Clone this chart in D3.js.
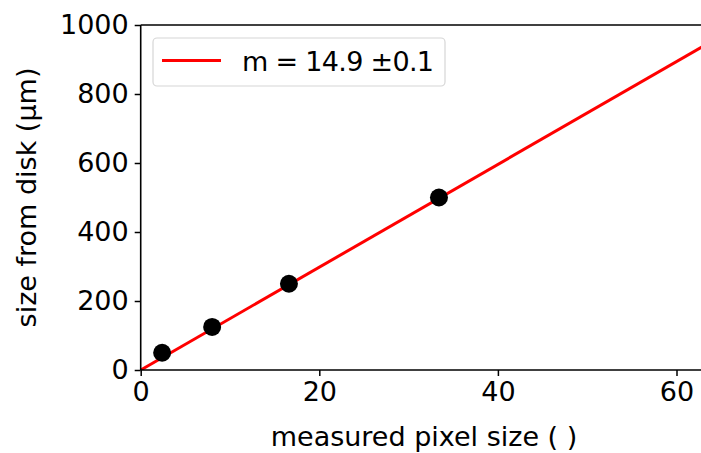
<!DOCTYPE html>
<html>
<head>
<meta charset="utf-8">
<script src="https://cdn.jsdelivr.net/npm/d3@7"></script>
<style>
  body { margin: 0; background: #fff; }
  svg { font-family: "DejaVu Sans", sans-serif; }
</style>
</head>
<body>
<svg width="701" height="453"></svg>
<script>
// measured data
var pixelSize = [2.4, 8.0, 16.6, 33.4];
var diskSize = [50, 125, 250, 500];
var slope = 14.9;
var xTicks = [0, 20, 40, 60];
var yTicks = [0, 200, 400, 600, 800, 1000];
var legendText = "m = 14.9 \u00b10.1";

var fontSize = 27;
var margin = { left: 140.7, top: 25, bottom: 83 };
var width = 701, height = 453;

var svg = d3.select("svg");

var x = d3.scaleLinear()
  .domain([0, 62.8])
  .range([margin.left, margin.left + 62.8 * 8.93]);

var y = d3.scaleLinear()
  .domain([0, 1000])
  .range([height - margin.bottom, margin.top]);

// clip for the plot area
svg.append("clipPath").attr("id", "plot")
  .append("rect")
  .attr("x", margin.left).attr("y", margin.top)
  .attr("width", width - margin.left).attr("height", y(0) - margin.top);

var plot = svg.append("g").attr("clip-path", "url(#plot)");

// points
svg.append("g").selectAll("circle")
  .data(pixelSize)
  .enter()
  .append("circle")
  .attr("cx", function(d) { return x(d); })
  .attr("cy", function(d, i) { return y(diskSize[i]); })
  .attr("r", 9)
  .attr("fill", "#000");

// fit line over the points
var fitX = [0, 64];
plot.append("line")
  .attr("x1", x(fitX[0])).attr("y1", y(slope * fitX[0]))
  .attr("x2", x(fitX[1])).attr("y2", y(slope * fitX[1]))
  .attr("stroke", "#ff0000")
  .attr("stroke-width", 3);

// axes
var xAxis = svg.append("g")
  .attr("transform", "translate(0," + y(0) + ")")
  .call(d3.axisBottom(x).tickValues(xTicks).tickSize(6).tickPadding(6).tickFormat(d3.format("d")));

var yAxis = svg.append("g")
  .attr("transform", "translate(" + margin.left + ",0)")
  .call(d3.axisLeft(y).tickValues(yTicks).tickSize(6).tickPadding(6).tickFormat(d3.format("d")));

[xAxis, yAxis].forEach(function(a) {
  a.attr("font-size", fontSize).attr("font-family", "DejaVu Sans");
  a.select(".domain").remove();
  a.selectAll(".tick line").attr("stroke", "#000").attr("stroke-width", 1.5);
  a.selectAll(".tick text").attr("fill", "#000");
});

// spines
svg.append("line")
  .attr("x1", margin.left).attr("x2", width)
  .attr("y1", y(0)).attr("y2", y(0))
  .attr("stroke", "#000").attr("stroke-width", 1.6);
svg.append("line")
  .attr("x1", margin.left).attr("x2", width)
  .attr("y1", y(1000)).attr("y2", y(1000))
  .attr("stroke", "#000").attr("stroke-width", 1.6);
svg.append("line")
  .attr("x1", margin.left).attr("x2", margin.left)
  .attr("y1", y(0)).attr("y2", y(1000))
  .attr("stroke", "#000").attr("stroke-width", 1.6);

// axis labels
svg.append("text")
  .attr("font-size", fontSize)
  .attr("x", 424).attr("y", 446)
  .attr("text-anchor", "middle")
  .text("measured pixel size ( )");

svg.append("text")
  .attr("font-size", fontSize)
  .attr("transform", "translate(36," + ((y(0) + y(1000)) / 2) + ") rotate(-90)")
  .attr("text-anchor", "middle")
  .text("size from disk (\u03bcm)");

// legend
var legend = svg.append("g");
legend.append("rect")
  .attr("x", 153).attr("y", 38)
  .attr("width", 292).attr("height", 48)
  .attr("rx", 4)
  .attr("fill", "#fff")
  .attr("fill-opacity", 0.8)
  .attr("stroke", "#d6d6d6")
  .attr("stroke-width", 1.2);
legend.append("line")
  .attr("x1", 162).attr("x2", 221)
  .attr("y1", 60.5).attr("y2", 60.5)
  .attr("stroke", "#ff0000").attr("stroke-width", 3);
legend.append("text")
  .attr("font-size", fontSize)
  .attr("x", 242).attr("y", 71)
  .attr("textLength", 192)
  .text(legendText);
</script>
</body>
</html>
